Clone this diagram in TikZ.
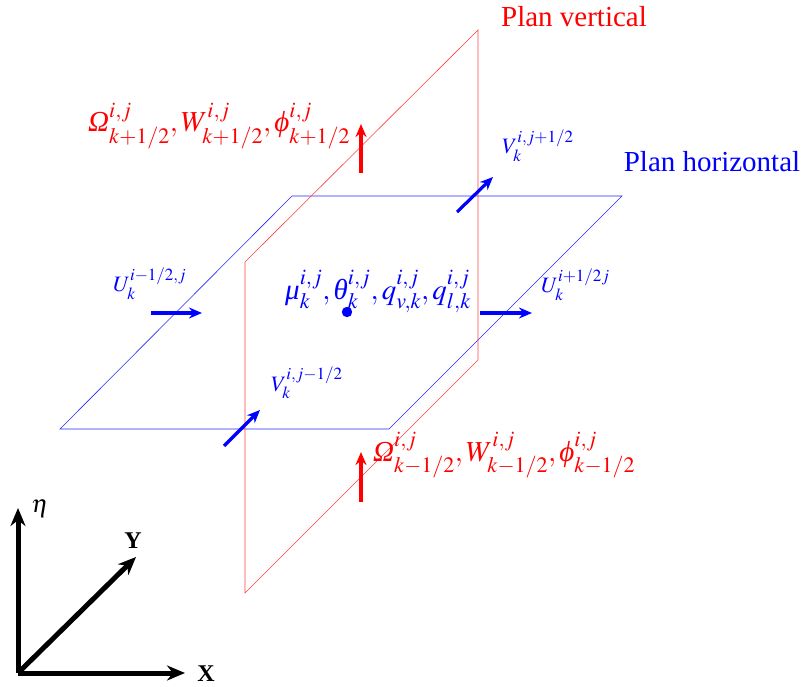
\documentclass[tikz,border=0pt]{standalone}
\usepackage{mathptmx}
\usepackage{fontspec}
\setmainfont{Liberation Serif}
\usetikzlibrary{arrows.meta}
\DeclareMathSizes{29}{29}{22}{17}
\DeclareMathSizes{22}{22}{17}{12}
\DeclareMathSizes{25}{25}{18}{14}
\newcommand{\bigtxt}{\fontsize{29}{32}\selectfont}
\newcommand{\smtxt}{\fontsize{22}{25}\selectfont}
\newcommand{\axtxt}{\fontsize{24}{27}\selectfont\bfseries}
\newcommand{\itG}[1]{\text{\itshape #1}}
\tikzset{
  vplane/.style={draw=red!75, line width=0.6pt},
  hplane/.style={draw=blue!85, line width=0.6pt},
  redarrow/.style={draw=red, line width=3.2pt, -{Stealth[length=13pt,width=11pt]}},
  bluearrow/.style={draw=blue, line width=3.2pt, -{Stealth[length=13pt,width=11pt]}},
  axisarrow/.style={draw=black, line width=5pt, -{Stealth[length=18pt,width=15pt]}},
  redlbl/.style={text=red, inner sep=0pt, anchor=base west, font=\bigtxt},
  bluelbl/.style={text=blue, inner sep=0pt, anchor=base west, font=\bigtxt},
  smblue/.style={text=blue, inner sep=0pt, anchor=base west, font=\smtxt},
  axlbl/.style={inner sep=0pt, anchor=base, font=\axtxt},
}
\usepackage{amstext}
\begin{document}
\begin{tikzpicture}[x=1pt,y=-1pt]
\useasboundingbox (0,0) rectangle (801,687);
% horizontal plane
\draw[hplane] (60,429) -- (292,196) -- (622,196) -- (389,429) -- cycle;
% vertical plane
\draw[vplane] (245,262) -- (478,30) -- (478,360) -- (245,593) -- cycle;
% plane titles
\node[text=red, font=\bigtxt, anchor=base] (pv) at (574,27) {Plan vertical};
\node[text=blue, font=\bigtxt, anchor=base] (ph) at (712,172) {Plan horizontal};
% vertical fluxes
\coordinate (wt0) at (361,173);
\coordinate (wt1) at (361,124);
\draw[redarrow] (wt0) -- (wt1);
\coordinate (wb0) at (361,502);
\coordinate (wb1) at (361,452);
\draw[redarrow] (wb0) -- (wb1);
\node[redlbl] (wtop) at (88,132) {$\itG{Ω}^{i,j}_{k+1/2},W^{i,j}_{k+1/2},\itG{ϕ}^{i,j}_{k+1/2}$};
\node[redlbl] (wbot) at (373,461) {$\itG{Ω}^{i,j}_{k-1/2},W^{i,j}_{k-1/2},\itG{ϕ}^{i,j}_{k-1/2}$};
% horizontal fluxes
\coordinate (ul0) at (151,313);
\coordinate (ul1) at (202,313);
\draw[bluearrow] (ul0) -- (ul1);
\coordinate (ur0) at (480,313);
\coordinate (ur1) at (532,313);
\draw[bluearrow] (ur0) -- (ur1);
\coordinate (vu0) at (457,212);
\coordinate (vu1) at (493,177);
\draw[bluearrow] (vu0) -- (vu1);
\coordinate (vd0) at (224,446);
\coordinate (vd1) at (260,410);
\draw[bluearrow] (vd0) -- (vd1);
\node[smblue] (ulbl) at (113,292) {$U_k^{i-1/2,j}$};
\node[smblue] (urlbl) at (541,293) {$U_k^{i+1/2j}$};
\node[smblue] (vulbl) at (502,154) {$V_k^{i,j+1/2}$};
\node[smblue] (vdlbl) at (271,391) {$V_k^{i,j-1/2}$};
% cell centre
\node[bluelbl] (cen) at (285,299) {$\itG{μ}^{i,j}_k,\itG{θ}^{i,j}_k,q^{i,j}_{v,k},q^{i,j}_{l,k}$};
\fill[blue] (347,312) circle (5.2pt) coordinate (dot);
% axes
\coordinate (o) at (18,673);
\coordinate (eta) at (18,508);
\coordinate (xx) at (185,673);
\coordinate (yy) at (136,557);
\draw[axisarrow] (o) -- (eta);
\draw[axisarrow] (o) -- (xx);
\draw[axisarrow] (o) -- (yy);
\node[font=\fontsize{25}{28}\selectfont] (etalbl) at (40,509) {$\eta$};
\node[axlbl] (ylbl) at (133,548) {Y};
\node[axlbl] (xlbl) at (206,681) {X};
\end{tikzpicture}
\end{document}
